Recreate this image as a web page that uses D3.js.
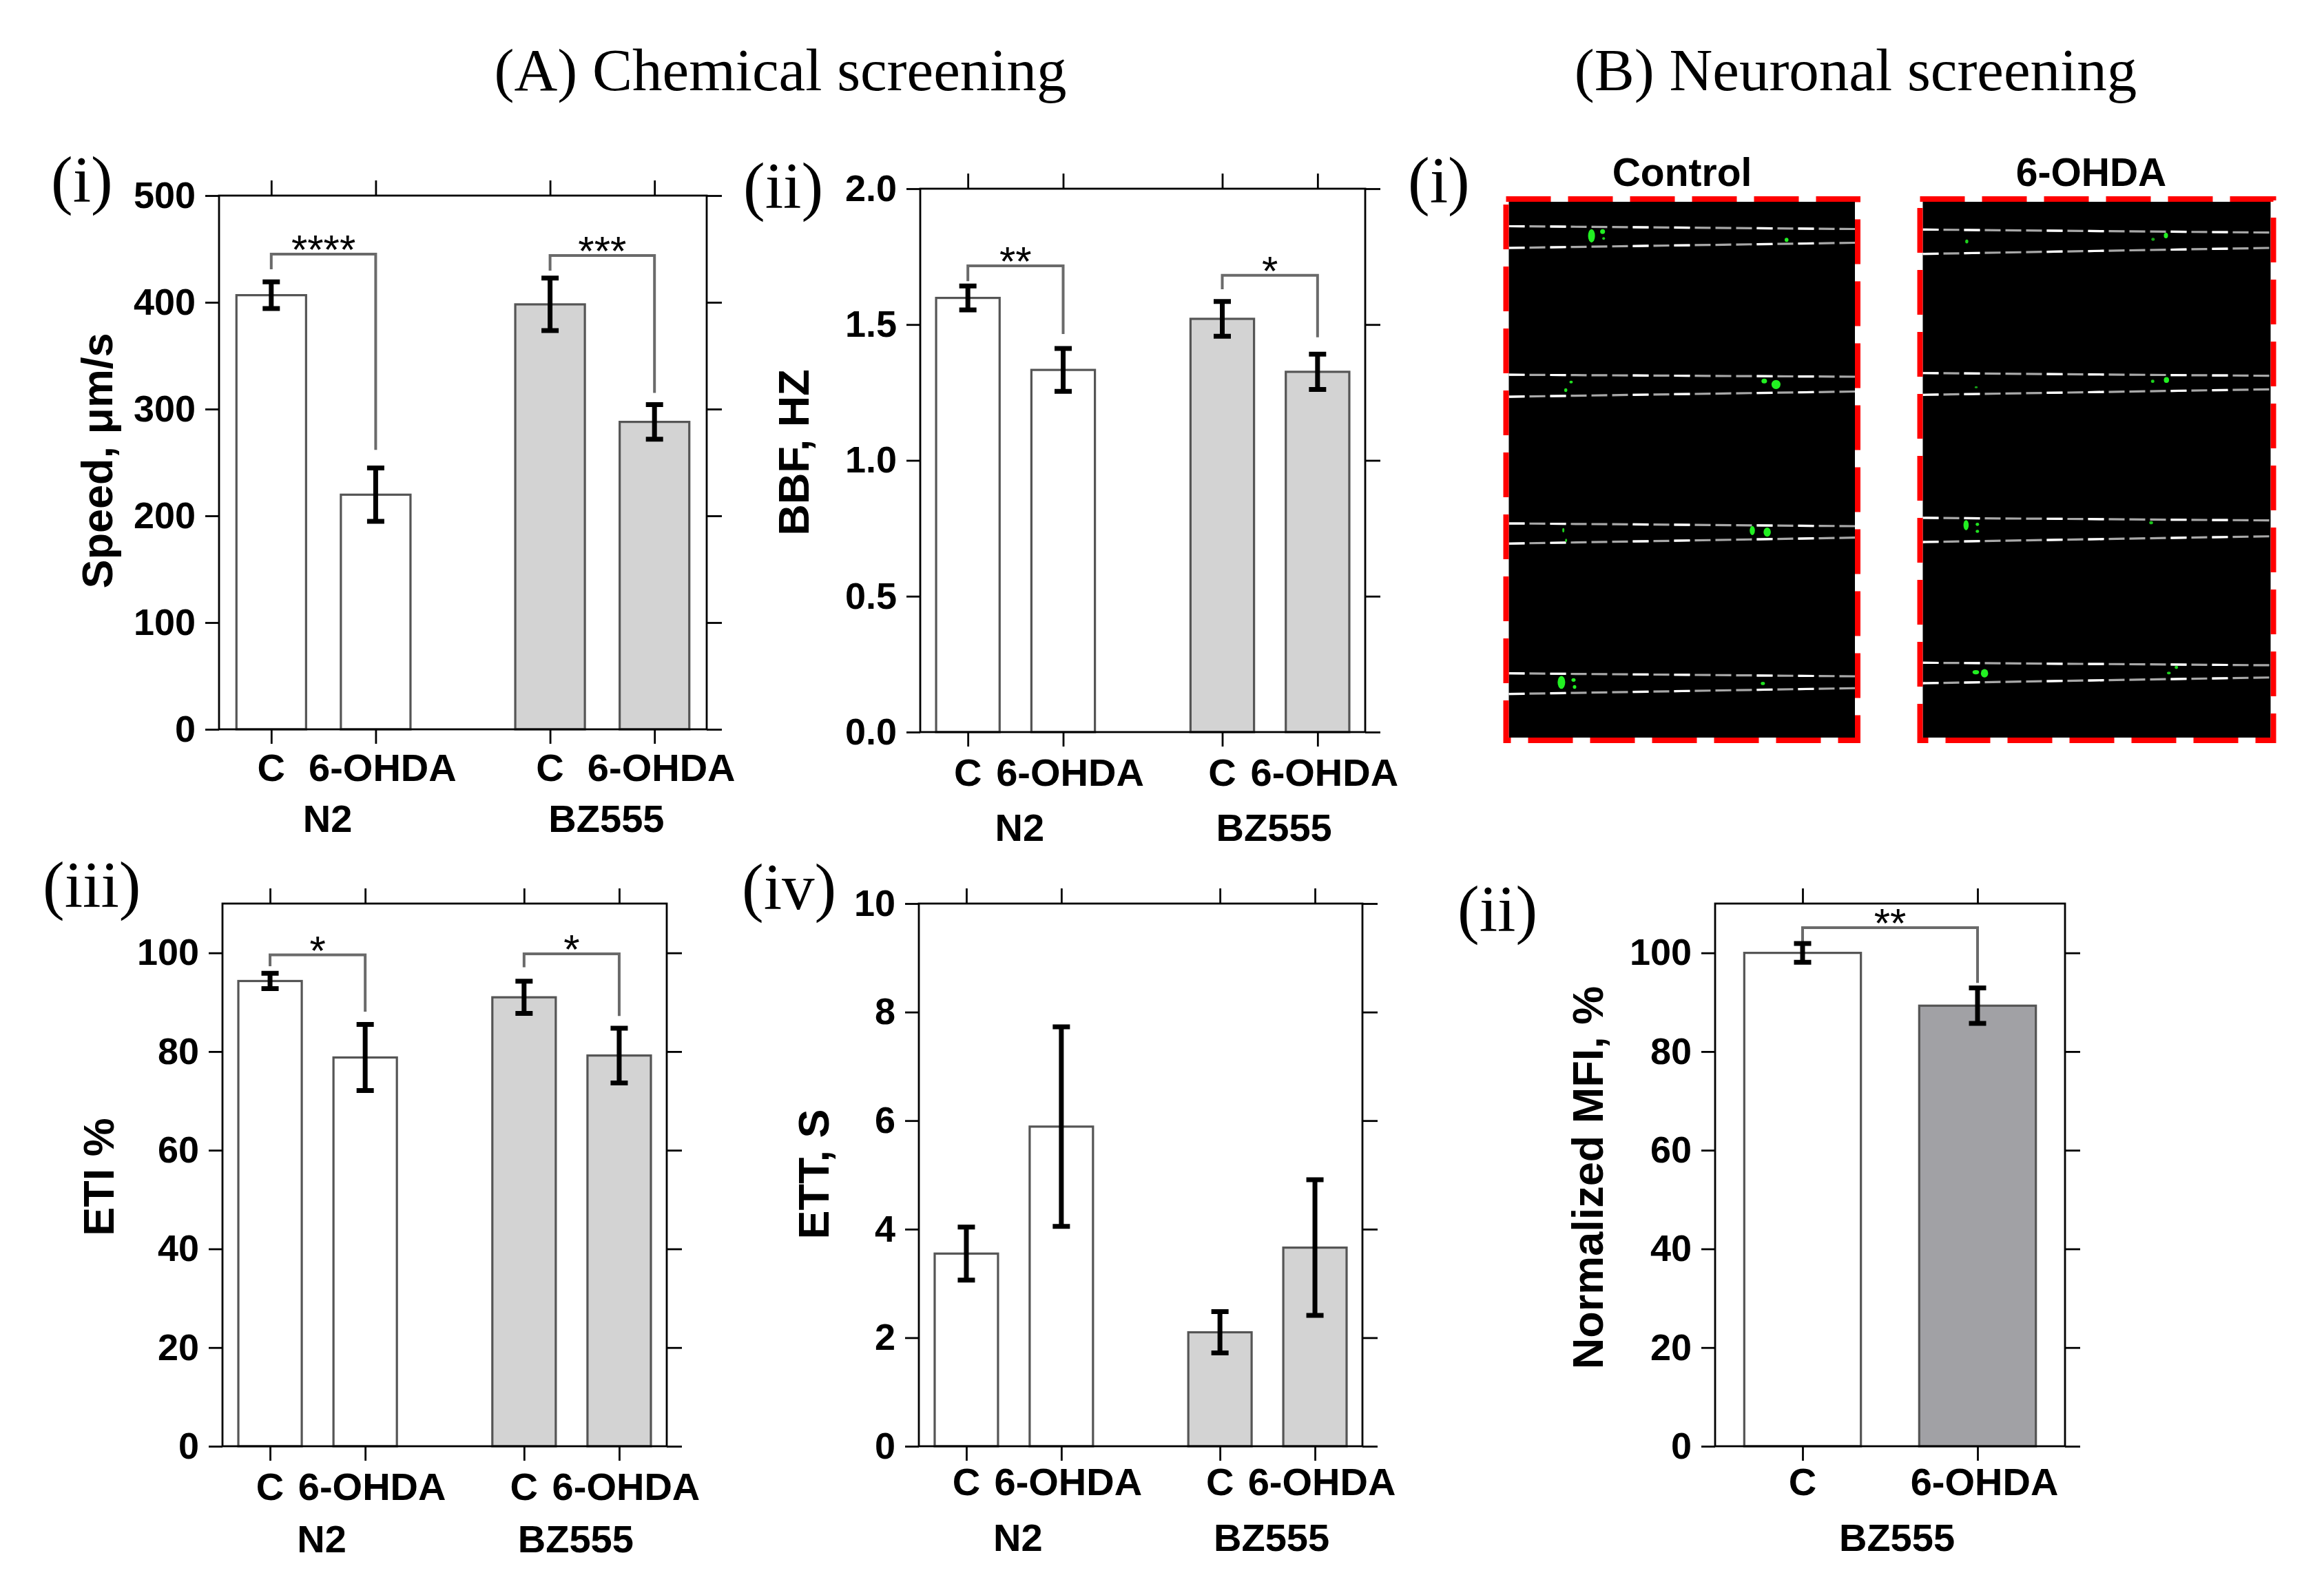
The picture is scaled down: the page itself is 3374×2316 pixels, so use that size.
<!DOCTYPE html>
<html><head><meta charset="utf-8">
<script src="https://cdn.jsdelivr.net/npm/d3@7"></script>
<style>body{margin:0;background:#fff} svg{display:block}</style>
</head><body>
<svg id="fig" width="3374" height="2316"></svg>
<script>
// ---------------- DATA ----------------
const categories = ["C", "6-OHDA"];
const groups = ["N2", "BZ555"];

const speedMean = [406.7, 219.8, 398.1, 288.0];
const speedErr  = [12.5, 25.0, 24.6, 16.2];
const speedTicks = [0, 100, 200, 300, 400, 500];
const speedSig = [
  {a: 0, b: 1, y: 445.2, left: 430.9, right: 261.7, label: "****"},
  {a: 2, b: 3, y: 443.9, left: 429.6, right: 315.2, label: "***"}
];

const bbfMean = [1.598, 1.333, 1.521, 1.326];
const bbfErr  = [0.044, 0.079, 0.064, 0.065];
const bbfTicks = [0, 0.5, 1.0, 1.5, 2.0];
const bbfSig = [
  {a: 0, b: 1, y: 1.716, left: 1.660, right: 1.465, label: "**"},
  {a: 2, b: 3, y: 1.681, left: 1.630, right: 1.453, label: "*"}
];

const etiMean = [94.3, 78.8, 91.0, 79.2];
const etiErr  = [1.55, 6.7, 3.25, 5.55];
const etiTicks = [0, 20, 40, 60, 80, 100];
const etiSig = [
  {a: 0, b: 1, y: 99.6, left: 97.3, right: 88.1, label: "*"},
  {a: 2, b: 3, y: 99.8, left: 97.1, right: 87.2, label: "*"}
];

const ettMean = [3.55, 5.89, 2.10, 3.66];
const ettErr  = [0.49, 1.84, 0.38, 1.25];
const ettTicks = [0, 2, 4, 6, 8, 10];
const ettSig = [];

const mfiGroup = "BZ555";
const mfiMean = [100, 89.3];
const mfiErr  = [1.9, 3.6];
const mfiTicks = [0, 20, 40, 60, 80, 100];
const mfiSig = [{a: 0, b: 1, y: 105.1, left: 102.3, right: 93.9, label: "**"}];

// microscope picture content (image-relative units 0..100)
const controlLanes = [[4.56, 5.08, 8.61, 7.65], [32.28, 32.65, 36.38, 35.41], [60.03, 60.54, 63.79, 62.68], [88.01, 88.56, 91.86, 90.78]];
const ohdaLanes    = [[5.18, 5.75, 9.73, 8.61], [31.97, 32.48, 36.03, 35.0], [58.99, 59.47, 63.5, 62.43], [86.03, 86.5, 89.85, 88.78]];
// [u, v, width, height, brightness]
const controlSpots = [
  [23.9, 6.35, 2.0, 2.5, 1], [27.1, 5.55, 1.4, 0.9, 1], [27.4, 6.85, 0.8, 0.5, 0.8], [80.25, 7.1, 1.1, 0.8, 1],
  [18.0, 33.65, 1.0, 0.5, 0.9], [16.45, 35.15, 0.9, 0.7, 0.9], [73.8, 33.45, 1.6, 0.9, 1], [77.2, 34.1, 2.6, 1.7, 1],
  [15.75, 61.3, 0.6, 0.8, 0.8], [16.55, 63.2, 0.6, 0.6, 0.8], [70.35, 61.35, 1.5, 1.7, 1], [74.65, 61.65, 2.1, 1.7, 1],
  [15.2, 89.7, 2.2, 2.4, 1], [18.7, 89.25, 1.2, 0.7, 1], [19.0, 90.55, 1.0, 0.7, 1], [73.4, 89.9, 1.2, 0.6, 0.9]
];
const ohdaSpots = [
  [12.65, 7.4, 0.9, 0.75, 0.8], [69.9, 6.3, 1.2, 1.0, 1], [66.2, 7.0, 1.0, 0.6, 0.5],
  [15.35, 34.6, 0.9, 0.4, 0.5], [66.1, 33.5, 1.0, 0.6, 0.8], [70.05, 33.25, 1.5, 1.1, 1],
  [12.45, 60.35, 1.5, 1.9, 1], [15.7, 60.2, 1.0, 0.6, 0.9], [15.7, 61.5, 1.0, 0.6, 0.9], [65.65, 59.9, 1.1, 0.6, 0.7],
  [15.25, 87.8, 1.9, 0.8, 1], [17.75, 88.0, 2.1, 1.6, 1], [70.75, 87.95, 1.1, 0.5, 0.8], [72.9, 86.9, 1.0, 0.6, 0.8]
];

// ---------------- DRAWING ----------------
const svg = d3.select("#fig");
const SANS = "'Liberation Sans', Arial, Helvetica, sans-serif";
const SERIF = "'Liberation Serif', 'Times New Roman', serif";

svg.append("rect").attr("width", 3374).attr("height", 2316).attr("fill", "#fff");

function text(x, y, s, size, opts = {}) {
  return svg.append("text").attr("x", x).attr("y", y).text(s)
    .attr("font-family", opts.serif ? SERIF : SANS)
    .attr("font-size", size)
    .attr("font-weight", opts.serif ? "normal" : (opts.weight || "bold"))
    .attr("text-anchor", opts.anchor || "start")
    .attr("fill", "#000");
}

// titles
text(1133, 131, "(A) Chemical screening", 87, {serif: true, anchor: "middle"});
text(2694, 131, "(B) Neuronal screening", 87, {serif: true, anchor: "middle"});

function barPanel(o) {
  const g = svg.append("g");
  const n = o.means.length;
  const twoGroups = n === 4;
  const posOf = i => twoGroups ? (i % 2) + 0.5 + Math.floor(i / 2) * 2.67 : i + 0.5;
  const xMax = twoGroups ? 4.67 : 2;
  const pos = d3.range(n).map(posOf);
  const x = d3.scaleLinear().domain([0, xMax]).range([o.x0, o.x1]);
  const y = d3.scaleLinear().domain(o.yDomain).range([o.y1, o.y0]);
  const bw = (x(1) - x(0)) * 2 / 3;

  // bars
  g.selectAll("rect.bar").data(o.means).join("rect")
    .attr("x", (d, i) => x(pos[i]) - bw / 2)
    .attr("width", bw)
    .attr("y", d => y(d))
    .attr("height", d => y(0) - y(d))
    .attr("fill", (d, i) => o.fills[i])
    .attr("stroke", "#555").attr("stroke-width", 3.2);

  // axes
  const styleAxis = sel => {
    sel.select(".domain").remove();
    sel.selectAll(".tick line").attr("stroke", "#000").attr("stroke-width", 2.8);
    sel.selectAll(".tick text").attr("font-family", SANS).attr("font-weight", "bold")
      .attr("font-size", 54).attr("fill", "#000");
  };
  g.append("g").attr("transform", `translate(${o.x0},0)`)
    .call(d3.axisLeft(y).tickValues(o.ticks).tickSize(20).tickPadding(14).tickFormat(o.fmt)).call(styleAxis);
  g.append("g").attr("transform", `translate(${o.x1},0)`)
    .call(d3.axisRight(y).tickValues(o.ticks).tickSize(22).tickFormat("")).call(styleAxis);
  g.append("g").attr("transform", `translate(0,${o.y0})`)
    .call(d3.axisTop(x).tickValues(pos).tickSize(22).tickFormat("")).call(styleAxis);
  g.append("g").attr("transform", `translate(0,${o.y1})`)
    .call(d3.axisBottom(x).tickValues(pos).tickSize(21).tickFormat("")).call(styleAxis);
  g.append("rect").attr("x", o.x0).attr("y", o.y0).attr("width", o.x1 - o.x0).attr("height", o.y1 - o.y0)
    .attr("fill", "none").attr("stroke", "#000").attr("stroke-width", 2.8);

  // significance brackets
  o.sig.forEach(s => {
    const xa = x(pos[s.a]), xb = x(pos[s.b]);
    g.append("path")
      .attr("d", `M${xa},${y(s.left)}V${y(s.y)}H${xb}V${y(s.right)}`)
      .attr("fill", "none").attr("stroke", "#6a6a6a").attr("stroke-width", 4);
    g.append("text").attr("x", (xa + xb) / 2).attr("y", y(s.y) + 14).text(s.label)
      .attr("font-family", SANS).attr("font-size", 60).attr("text-anchor", "middle").attr("fill", "#000");
  });

  // error bars
  const cap = 12.5;
  o.means.forEach((m, i) => {
    const cx = x(pos[i]), t = y(m + o.errs[i]), b = y(m - o.errs[i]);
    g.append("path").attr("d", `M${cx},${t}V${b}M${cx - cap},${t}H${cx + cap}M${cx - cap},${b}H${cx + cap}`)
      .attr("fill", "none").attr("stroke", "#000").attr("stroke-width", 7);
  });

  // category labels
  pos.forEach((p, i) => {
    const ci = i % 2;
    text(x(p) + (ci ? 10 : 0), o.catY, categories[ci], 56, {anchor: "middle"});
  });
  if (twoGroups) {
    groups.forEach((gname, gi) => {
      text((x(pos[gi * 2]) + x(pos[gi * 2 + 1])) / 2 + 6, o.grpY, gname, 56, {anchor: "middle"});
    });
  } else {
    text((o.x0 + o.x1) / 2 + 10, o.grpY, o.group, 56, {anchor: "middle"});
  }

  // y title
  svg.append("text").attr("transform", `translate(${o.titleX},${o.titleY}) rotate(-90)`)
    .text(o.title).attr("font-family", SANS).attr("font-weight", "bold").attr("font-size", 63)
    .attr("text-anchor", "middle").attr("fill", "#000");

  // panel label
  text(o.labX, o.labY, o.label, 95, {serif: true});
}

const WHITE = "#ffffff", LIGHT = "#d3d3d3", MID = "#a1a1a5";

barPanel({x0: 318, x1: 1026, y0: 284, y1: 1059, yDomain: [0, 500], ticks: speedTicks, fmt: d3.format("d"),
  means: speedMean, errs: speedErr, fills: [WHITE, WHITE, LIGHT, LIGHT], sig: speedSig,
  catY: 1134, grpY: 1208, title: "Speed, \u03bcm/s", titleX: 163, titleY: 669, label: "(i)", labX: 74, labY: 293});

barPanel({x0: 1336, x1: 1982, y0: 274, y1: 1063, yDomain: [0, 2], ticks: bbfTicks, fmt: d3.format(".1f"),
  means: bbfMean, errs: bbfErr, fills: [WHITE, WHITE, LIGHT, LIGHT], sig: bbfSig,
  catY: 1141, grpY: 1221, title: "BBF, HZ", titleX: 1174, titleY: 657, label: "(ii)", labX: 1079, labY: 302});

barPanel({x0: 323, x1: 968, y0: 1312, y1: 2100, yDomain: [0, 110], ticks: etiTicks, fmt: d3.format("d"),
  means: etiMean, errs: etiErr, fills: [WHITE, WHITE, LIGHT, LIGHT], sig: etiSig,
  catY: 2178, grpY: 2254, title: "ETI %", titleX: 165, titleY: 1709, label: "(iii)", labX: 62, labY: 1317});

barPanel({x0: 1334, x1: 1978, y0: 1312, y1: 2100, yDomain: [0, 10], ticks: ettTicks, fmt: d3.format("d"),
  means: ettMean, errs: ettErr, fills: [WHITE, WHITE, LIGHT, LIGHT], sig: ettSig,
  catY: 2171, grpY: 2252, title: "ETT, S", titleX: 1203, titleY: 1705, label: "(iv)", labX: 1077, labY: 1320});

barPanel({x0: 2490, x1: 2998, y0: 1312, y1: 2100, yDomain: [0, 110], ticks: mfiTicks, fmt: d3.format("d"),
  means: mfiMean, errs: mfiErr, fills: [WHITE, MID], sig: mfiSig, group: mfiGroup,
  catY: 2171, grpY: 2252, title: "Normalized MFI, %", titleX: 2327, titleY: 1710, label: "(ii)", labX: 2116, labY: 1352});

// ---------------- B(i) fluorescence images ----------------
text(2044, 294, "(i)", 95, {serif: true});
const pics = [
  {title: "Control", tx: 2442, x0: 2186.5, x1: 2697, lanes: controlLanes, spots: controlSpots},
  {title: "6-OHDA", tx: 3036, x0: 2787.5, x1: 3300.5, lanes: ohdaLanes, spots: ohdaSpots}
];
const picY0 = 289, picY1 = 1075;
pics.forEach(p => {
  const g = svg.append("g");
  const u = d3.scaleLinear().domain([0, 100]).range([p.x0 + 4, p.x1 - 4]);
  const v = d3.scaleLinear().domain([0, 100]).range([picY0 + 4, picY1 - 4]);
  g.append("rect").attr("x", u(0)).attr("y", v(0)).attr("width", u(100) - u(0)).attr("height", v(100) - v(0)).attr("fill", "#000");
  p.lanes.forEach(l => {
    [[l[0], l[1]], [l[2], l[3]]].forEach(([a, b]) => {
      g.append("line").attr("x1", u(0)).attr("x2", u(100)).attr("y1", v(a)).attr("y2", v(b))
        .attr("stroke", "#a8a8a8").attr("stroke-width", 3.2).attr("stroke-dasharray", "23 7");
      g.append("line").attr("x1", u(0)).attr("x2", u(100)).attr("y1", v(a)).attr("y2", v(b))
        .attr("stroke", "#ffffff").attr("stroke-width", 3.2).attr("stroke-dasharray", "23 37 23 97");
    });
  });
  g.selectAll("ellipse").data(p.spots).join("ellipse")
    .attr("cx", d => u(d[0])).attr("cy", d => v(d[1]))
    .attr("rx", d => (u(d[2]) - u(0)) / 2).attr("ry", d => (v(d[3]) - v(0)) / 2)
    .attr("fill", d => d3.interpolateRgb("#0a5a0a", "#22f022")(d[4]));
  g.append("rect").attr("x", p.x0).attr("y", picY0).attr("width", p.x1 - p.x0).attr("height", picY1 - picY0)
    .attr("fill", "none").attr("stroke", "#ff0000").attr("stroke-width", 8).attr("stroke-dasharray", "65 25");
  text(p.tx, 270, p.title, 57, {anchor: "middle"});
});
</script>
</body></html>
